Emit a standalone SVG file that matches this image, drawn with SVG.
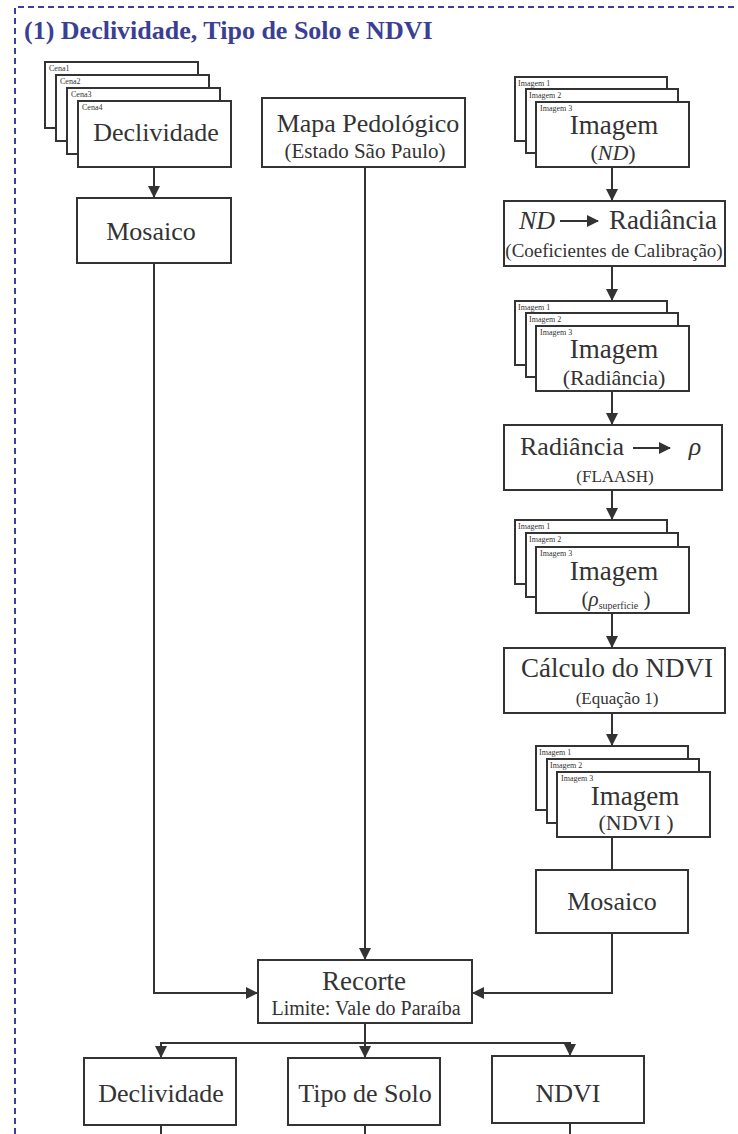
<svg xmlns="http://www.w3.org/2000/svg" width="738" height="1134" viewBox="0 0 738 1134">
  <style>
    .box { fill: #ffffff; stroke: #333333; stroke-width: 2; }
    .ln { fill: none; stroke: #333333; stroke-width: 2; }
    .lbl { font-family: "Liberation Serif", serif; fill: #333333; text-anchor: middle; }
    .tag { font-size: 8px; text-anchor: start; }
    .it { font-style: italic; }
    .title { font-family: "Liberation Serif", serif; font-weight: bold; font-size: 26px; fill: #3b3f94; }
  </style>
  <defs>
    <marker id="arr" markerUnits="userSpaceOnUse" markerWidth="12" markerHeight="12" viewBox="0 0 12 12" refX="11" refY="6" orient="auto">
      <path d="M0,0 L12,6 L0,12 Z" fill="#333333"/>
    </marker>
  </defs>
  <rect width="738" height="1134" fill="#ffffff"/>

  <!-- dashed frame -->
  <path d="M15,1134 L15,7 L738,7" fill="none" stroke="#3b3f9c" stroke-width="2" stroke-dasharray="6,4"/>
  <text class="title" x="24" y="39">(1) Declividade, Tipo de Solo e NDVI</text>

  <!-- connectors -->
  <g id="connectors">
    <line class="ln" x1="154" y1="167" x2="154" y2="197" marker-end="url(#arr)"/>
    <polyline class="ln" points="154,263 154,993 257,993" marker-end="url(#arr)"/>
    <line class="ln" x1="365" y1="167" x2="365" y2="959" marker-end="url(#arr)"/>
    <line class="ln" x1="612" y1="167" x2="612" y2="200" marker-end="url(#arr)"/>
    <line class="ln" x1="612" y1="266" x2="612" y2="300" marker-end="url(#arr)"/>
    <line class="ln" x1="612" y1="391" x2="612" y2="424" marker-end="url(#arr)"/>
    <line class="ln" x1="612" y1="490" x2="612" y2="519" marker-end="url(#arr)"/>
    <line class="ln" x1="612" y1="613" x2="612" y2="647" marker-end="url(#arr)"/>
    <line class="ln" x1="612" y1="713" x2="612" y2="745" marker-end="url(#arr)"/>
    <line class="ln" x1="612" y1="837" x2="612" y2="870"/>
    <polyline class="ln" points="612,933 612,993 473,993" marker-end="url(#arr)"/>
    <line class="ln" x1="365" y1="1023" x2="365" y2="1057" marker-end="url(#arr)"/>
    <line class="ln" x1="160" y1="1043" x2="571" y2="1043"/>
    <line class="ln" x1="161" y1="1042" x2="161" y2="1057" marker-end="url(#arr)"/>
    <line class="ln" x1="570" y1="1042" x2="570" y2="1055" marker-end="url(#arr)"/>
    <line class="ln" x1="161" y1="1125" x2="161" y2="1134"/>
    <line class="ln" x1="365" y1="1125" x2="365" y2="1134"/>
    <line class="ln" x1="570" y1="1123" x2="570" y2="1134"/>
  </g>

  <!-- slope scenes -->
  <g id="declividade-cenas">
    <rect class="box" x="45" y="62" width="153" height="66"/>
    <text class="lbl tag" x="49" y="71">Cena1</text>
    <rect class="box" x="56" y="75" width="153" height="66"/>
    <text class="lbl tag" x="60" y="84">Cena2</text>
    <rect class="box" x="67" y="88" width="153" height="66"/>
    <text class="lbl tag" x="71" y="97">Cena3</text>
    <rect class="box" x="78" y="101" width="153" height="66"/>
    <text class="lbl tag" x="82" y="110">Cena4</text>
    <text class="lbl" x="156" y="141" font-size="26">Declividade</text>
  </g>

  <g id="mosaico-declividade">
    <rect class="box" x="77" y="198" width="154" height="65"/>
    <text class="lbl" x="151" y="240" font-size="26">Mosaico</text>
  </g>

  <g id="mapa-pedologico">
    <rect class="box" x="262" y="98" width="203" height="69"/>
    <text class="lbl" x="368" y="132" font-size="26">Mapa Pedológico</text>
    <text class="lbl" x="365" y="158" font-size="21">(Estado São Paulo)</text>
  </g>

  <g id="imagem-nd">
    <rect class="box" x="515" y="77" width="152" height="64"/>
    <text class="lbl tag" x="518" y="86">Imagem 1</text>
    <rect class="box" x="526" y="89" width="152" height="64"/>
    <text class="lbl tag" x="529" y="98">Imagem 2</text>
    <rect class="box" x="536" y="102" width="153" height="65"/>
    <text class="lbl tag" x="540" y="111">Imagem 3</text>
    <text class="lbl" x="614" y="134" font-size="27">Imagem</text>
    <text class="lbl" x="613" y="160" font-size="22">(<tspan class="it">ND</tspan>)</text>
  </g>

  <g id="nd-radiancia">
    <rect class="box" x="504" y="201" width="221" height="65"/>
    <text class="lbl it" x="537" y="229" font-size="26">ND</text>
    <line class="ln" x1="560" y1="221" x2="598" y2="221" marker-end="url(#arr)"/>
    <text class="lbl" x="663" y="229" font-size="27">Radiância</text>
    <text class="lbl" x="614" y="257" font-size="19">(Coeficientes de Calibração)</text>
  </g>

  <g id="imagem-radiancia">
    <rect class="box" x="515" y="301" width="152" height="64"/>
    <text class="lbl tag" x="518" y="310">Imagem 1</text>
    <rect class="box" x="526" y="313" width="152" height="64"/>
    <text class="lbl tag" x="529" y="322">Imagem 2</text>
    <rect class="box" x="536" y="326" width="153" height="65"/>
    <text class="lbl tag" x="540" y="335">Imagem 3</text>
    <text class="lbl" x="614" y="358" font-size="27">Imagem</text>
    <text class="lbl" x="614" y="385" font-size="22">(Radiância)</text>
  </g>

  <g id="radiancia-rho">
    <rect class="box" x="504" y="425" width="218" height="65"/>
    <text class="lbl" x="572" y="455" font-size="26">Radiância</text>
    <line class="ln" x1="633" y1="448" x2="670" y2="448" marker-end="url(#arr)"/>
    <text class="lbl it" x="695" y="455" font-size="26">ρ</text>
    <text class="lbl" x="615" y="482" font-size="17">(FLAASH)</text>
  </g>

  <g id="imagem-reflectancia">
    <rect class="box" x="515" y="520" width="152" height="64"/>
    <text class="lbl tag" x="518" y="529">Imagem 1</text>
    <rect class="box" x="526" y="533" width="152" height="64"/>
    <text class="lbl tag" x="529" y="542">Imagem 2</text>
    <rect class="box" x="536" y="547" width="153" height="66"/>
    <text class="lbl tag" x="540" y="556">Imagem 3</text>
    <text class="lbl" x="614" y="580" font-size="27">Imagem</text>
    <text class="lbl" x="616" y="606" font-size="21">(<tspan class="it">ρ</tspan><tspan font-size="10" dy="3">superficie</tspan><tspan dy="-3"> )</tspan></text>
  </g>

  <g id="calculo-ndvi">
    <rect class="box" x="504" y="648" width="221" height="65"/>
    <text class="lbl" x="617" y="677" font-size="27">Cálculo do NDVI</text>
    <text class="lbl" x="617" y="704" font-size="17">(Equação 1)</text>
  </g>

  <g id="imagem-ndvi">
    <rect class="box" x="536" y="746" width="152" height="64"/>
    <text class="lbl tag" x="539" y="755">Imagem 1</text>
    <rect class="box" x="547" y="759" width="152" height="64"/>
    <text class="lbl tag" x="550" y="768">Imagem 2</text>
    <rect class="box" x="557" y="772" width="153" height="65"/>
    <text class="lbl tag" x="561" y="781">Imagem 3</text>
    <text class="lbl" x="635" y="805" font-size="27">Imagem</text>
    <text class="lbl" x="636" y="830" font-size="22">(NDVI )</text>
  </g>

  <g id="mosaico-ndvi">
    <rect class="box" x="536" y="870" width="152" height="63"/>
    <text class="lbl" x="612" y="910" font-size="26">Mosaico</text>
  </g>

  <g id="recorte">
    <rect class="box" x="258" y="960" width="214" height="63"/>
    <text class="lbl" x="364" y="990" font-size="27">Recorte</text>
    <text class="lbl" x="366" y="1015" font-size="20">Limite: Vale do Paraíba</text>
  </g>

  <g id="declividade-final">
    <rect class="box" x="84" y="1058" width="152" height="67"/>
    <text class="lbl" x="161" y="1102" font-size="26">Declividade</text>
  </g>
  <g id="tipo-solo">
    <rect class="box" x="288" y="1058" width="152" height="67"/>
    <text class="lbl" x="365" y="1102" font-size="26">Tipo de Solo</text>
  </g>
  <g id="ndvi-final">
    <rect class="box" x="492" y="1056" width="152" height="67"/>
    <text class="lbl" x="568" y="1102" font-size="26">NDVI</text>
  </g>
</svg>
